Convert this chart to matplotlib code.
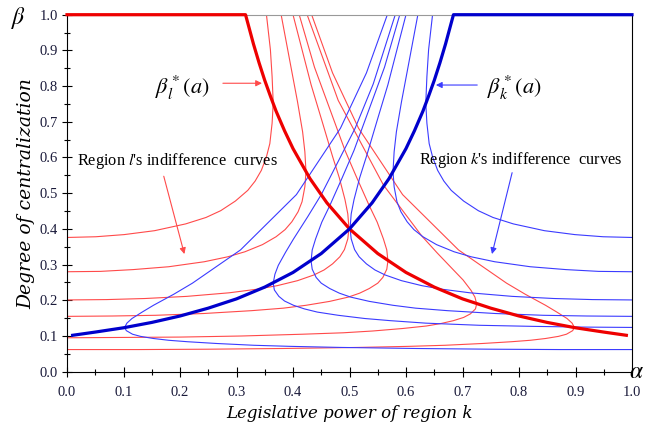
import matplotlib
matplotlib.use("Agg")
import matplotlib.pyplot as plt
import numpy as np
from matplotlib.ticker import MultipleLocator

# optimal centralization, region l (region k is its mirror image in alpha)
opt_alpha = [0.0, 0.316, 0.33, 0.34, 0.35, 0.36, 0.37, 0.385, 0.40, 0.43, 0.46, 0.50,
             0.55, 0.60, 0.65, 0.70, 0.75, 0.80, 0.85, 0.90, 0.95, 0.99]
opt_beta = [1.0, 1.0, 0.918, 0.865, 0.816, 0.772, 0.730, 0.675, 0.625, 0.541, 0.473, 0.400,
            0.331, 0.278, 0.237, 0.204, 0.178, 0.156, 0.138, 0.123, 0.111, 0.102]

# indifference curves of region l (alpha, beta)
l1_a = [0, 0.051, 0.101, 0.155, 0.210, 0.246, 0.272, 0.298, 0.320, 0.333, 0.344, 0.353, 0.359,
        0.363, 0.365, 0.363, 0.360, 0.353]
l1_b = [0.376, 0.378, 0.384, 0.395, 0.414, 0.432, 0.451, 0.478, 0.508, 0.534, 0.564, 0.602, 0.639,
        0.696, 0.752, 0.827, 0.902, 1.0]
l2_a = [0, 0.059, 0.117, 0.180, 0.243, 0.285, 0.315, 0.346, 0.370, 0.386, 0.398, 0.409, 0.416,
        0.421, 0.423, 0.421, 0.417, 0.408, 0.398, 0.379]
l2_b = [0.280, 0.281, 0.286, 0.294, 0.308, 0.322, 0.336, 0.356, 0.378, 0.398, 0.420, 0.448, 0.476,
        0.518, 0.560, 0.616, 0.672, 0.756, 0.840, 1.0]
l3_a = [0, 0.070, 0.138, 0.212, 0.287, 0.336, 0.372, 0.408, 0.437, 0.455, 0.470, 0.483, 0.491,
        0.497, 0.499, 0.497, 0.492, 0.482, 0.470, 0.451, 0.432, 0.400]
l3_b = [0.201, 0.202, 0.205, 0.211, 0.221, 0.231, 0.241, 0.255, 0.271, 0.285, 0.302, 0.322, 0.342,
        0.372, 0.402, 0.442, 0.482, 0.543, 0.603, 0.704, 0.804, 1.0]
l4_a = [0, 0.080, 0.157, 0.242, 0.327, 0.383, 0.423, 0.465, 0.498, 0.518, 0.535, 0.550, 0.559,
        0.566, 0.568, 0.566, 0.560, 0.549, 0.535, 0.513, 0.492, 0.438, 0.411]
l4_b = [0.155, 0.156, 0.158, 0.163, 0.171, 0.178, 0.186, 0.197, 0.209, 0.220, 0.233, 0.248, 0.264,
        0.287, 0.310, 0.341, 0.372, 0.419, 0.465, 0.543, 0.620, 0.853, 1.0]
l5_a = [0, 0.102, 0.201, 0.309, 0.417, 0.489, 0.541, 0.594, 0.636, 0.662, 0.684, 0.702, 0.714,
        0.723, 0.725, 0.722, 0.715, 0.701, 0.684, 0.655, 0.628, 0.560, 0.480, 0.425]
l5_b = [0.095, 0.096, 0.097, 0.100, 0.105, 0.109, 0.114, 0.121, 0.128, 0.135, 0.143, 0.152, 0.162,
        0.176, 0.190, 0.209, 0.228, 0.257, 0.285, 0.333, 0.380, 0.523, 0.760, 1.0]
l6_a = [0, 0.126, 0.249, 0.382, 0.516, 0.605, 0.669, 0.735, 0.787, 0.820, 0.847, 0.870, 0.884,
        0.895, 0.898, 0.894, 0.885, 0.867, 0.847, 0.811, 0.778, 0.693, 0.594, 0.516, 0.470, 0.433]
l6_b = [0.062, 0.062, 0.063, 0.065, 0.068, 0.071, 0.074, 0.079, 0.084, 0.088, 0.093, 0.099, 0.105,
        0.115, 0.124, 0.136, 0.149, 0.167, 0.186, 0.217, 0.248, 0.341, 0.496, 0.682, 0.837, 1.0]
# region k has one curve that region l lacks (alpha measured from the right edge)
k5_a = [0, 0.089, 0.176, 0.270, 0.365, 0.428, 0.473, 0.520, 0.557, 0.580, 0.599, 0.615, 0.625,
        0.633, 0.635, 0.632, 0.626, 0.613, 0.599, 0.574, 0.550, 0.490, 0.458, 0.419]
k5_b = [0.124, 0.125, 0.127, 0.130, 0.136, 0.143, 0.149, 0.158, 0.167, 0.176, 0.186, 0.198, 0.211,
        0.229, 0.248, 0.273, 0.298, 0.335, 0.372, 0.434, 0.496, 0.682, 0.806, 1.0]

l_curves = [(l1_a, l1_b), (l2_a, l2_b), (l3_a, l3_b), (l4_a, l4_b), (l5_a, l5_b), (l6_a, l6_b)]
k_curves = [(l1_a, l1_b), (l2_a, l2_b), (l3_a, l3_b), (l4_a, l4_b), (k5_a, k5_b), (l6_a, l6_b)]

plt.rcParams['font.family'] = ['Liberation Serif', 'DejaVu Serif']
plt.rcParams['mathtext.fontset'] = 'stix'

fig = plt.figure(figsize=(6.45, 4.23), dpi=100)
ax = fig.add_axes([67 / 645, 1 - 371.7 / 423, 565 / 645, 357 / 423])

red_thin = '#ff4a4a'
blue_thin = '#3b3bff'
for a, b in l_curves:
    ax.plot(a, b, color=red_thin, lw=0.8, zorder=2, solid_joinstyle='round')
for a, b in k_curves:
    ax.plot(1 - np.array(a), b, color=blue_thin, lw=0.8, zorder=2, solid_joinstyle='round')

ax.plot(opt_alpha, opt_beta, color='#ee0000', lw=2.3, zorder=3, clip_on=False,
        solid_joinstyle='round')
ax.plot(1 - np.array(opt_alpha), opt_beta, color='#0000cc', lw=2.3, zorder=3, clip_on=False,
        solid_joinstyle='round')

ax.set_xlim(0, 1)
ax.set_ylim(0, 1)
ax.xaxis.set_major_locator(MultipleLocator(0.1))
ax.xaxis.set_minor_locator(MultipleLocator(0.05))
ax.yaxis.set_major_locator(MultipleLocator(0.1))
ax.yaxis.set_minor_locator(MultipleLocator(0.05))
ax.xaxis.set_major_formatter(lambda v, p: f"{v:.1f}")
ax.yaxis.set_major_formatter(lambda v, p: f"{v:.1f}")
ax.tick_params(which='major', direction='inout', length=7, width=0.8, labelsize=10.5,
               labelcolor='#1a1a3a', pad=3)
ax.tick_params(axis='x', which='major', pad=7)
ax.tick_params(which='minor', direction='inout', length=4, width=0.8)
ax.spines['top'].set_color('#999999')
ax.spines['top'].set_linewidth(0.8)
for s in ['left', 'bottom', 'right']:
    ax.spines[s].set_linewidth(0.8)

ax.set_xlabel('Legislative power of region k', fontsize=12, family='DejaVu Serif',
              style='italic', labelpad=4)
ax.set_ylabel('Degree of centralization', fontsize=13.5, family='DejaVu Serif',
              style='italic', labelpad=3)

fig.text(19 / 645, 1 - 18 / 423, r'$\beta$', fontsize=17, ha='center', va='center')
fig.text(644 / 645, 1 - 372 / 423, r'$\alpha$', fontsize=17, ha='right', va='center')

ax.text(0.205, 0.795, r'$\beta_l^*(a)$', fontsize=16, ha='center', va='center')
ax.annotate('', xy=(0.350, 0.808), xytext=(0.271, 0.808),
            arrowprops=dict(arrowstyle='-|>', color=red_thin, lw=0.8, mutation_scale=9))
ax.text(0.791, 0.795, r'$\beta_k^*(a)$', fontsize=16, ha='center', va='center')
ax.annotate('', xy=(0.648, 0.803), xytext=(0.731, 0.803),
            arrowprops=dict(arrowstyle='-|>', color=blue_thin, lw=0.8, mutation_scale=9))

ax.text(0.017, 0.589, r"Region $l$'s indifference  curves", fontsize=11.8, ha='left', va='center')
ax.annotate('', xy=(0.209, 0.322), xytext=(0.170, 0.555),
            arrowprops=dict(arrowstyle='-|>', color=red_thin, lw=0.8, mutation_scale=9))
ax.text(0.623, 0.594, r"Region $k$'s indifference  curves", fontsize=11.8, ha='left', va='center')
ax.annotate('', xy=(0.751, 0.322), xytext=(0.789, 0.565),
            arrowprops=dict(arrowstyle='-|>', color=blue_thin, lw=0.8, mutation_scale=9))

fig.savefig('out.png', dpi=100)
